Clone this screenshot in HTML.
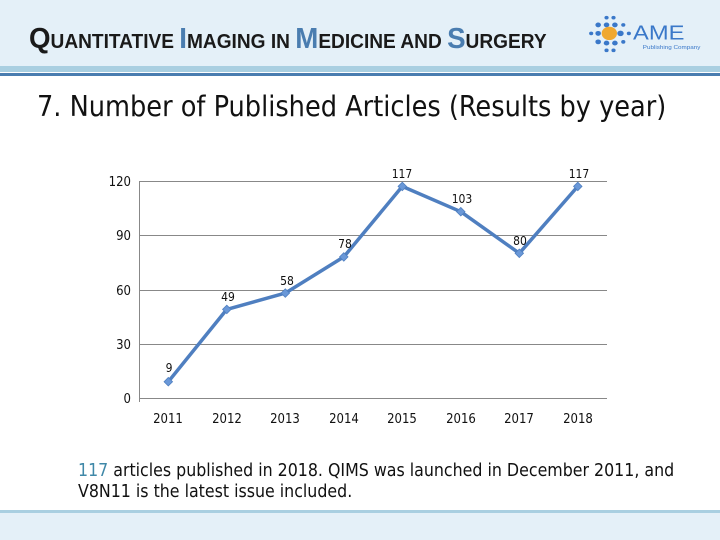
<!DOCTYPE html>
<html><head><meta charset="utf-8"><style>
html,body{margin:0;padding:0;}
body{width:720px;height:540px;position:relative;background:#fff;font-family:"DejaVu Sans Condensed","Liberation Sans",sans-serif;overflow:hidden;}
.hdr{position:absolute;left:0;top:0;width:720px;height:66px;background:#e4f0f8;}
.l1{position:absolute;left:0;top:66px;width:720px;height:6px;background:#a9cfe1;}
.l2{position:absolute;left:0;top:73px;width:720px;height:3px;background:#4a7db0;}
.ftr{position:absolute;left:0;top:513px;width:720px;height:27px;background:#e4f0f8;}
.fl{position:absolute;left:0;top:510px;width:720px;height:3px;background:#a9cfe1;}
.jt{position:absolute;left:29px;top:25px;font-family:"Liberation Sans",sans-serif;font-weight:bold;font-size:20px;color:#1a1a1a;transform:scaleX(0.955);transform-origin:left;white-space:nowrap;line-height:28px;}
.jt b{font-size:29px;color:#1a1a1a;}
.jt b.c{color:#4a7db0;}
.title{position:absolute;left:37px;top:90px;font-size:28.5px;color:#111;white-space:nowrap;}
.note{position:absolute;left:78px;top:461px;font-size:17.6px;line-height:21px;color:#111;white-space:nowrap;}
.note span{color:#3f88a8;}
</style></head><body>
<div class="hdr"></div><div class="l1"></div><div class="l2"></div>
<div class="jt"><b>Q</b>UANTITATIVE <b class="c">I</b>MAGING IN <b class="c">M</b>EDICINE AND <b class="c">S</b>URGERY</div>
<svg style="position:absolute;left:587px;top:14px" width="120" height="40" viewBox="0 0 86 33" preserveAspectRatio="none">
<g fill="#3a78c9">
<circle cx="14" cy="3" r="1.5"/><circle cx="19" cy="3" r="1.5"/>
<circle cx="8" cy="9" r="2"/><circle cx="14" cy="9" r="2"/><circle cx="20" cy="9" r="2"/><circle cx="26" cy="9" r="1.5"/>
<circle cx="3" cy="16" r="1.5"/><circle cx="8" cy="16" r="2"/><circle cx="24" cy="16" r="2.3"/><circle cx="30" cy="16" r="1.5"/>
<circle cx="8" cy="23" r="2"/><circle cx="14" cy="24" r="2"/><circle cx="20" cy="24" r="2"/><circle cx="26" cy="23" r="1.5"/>
<circle cx="14" cy="30" r="1.5"/><circle cx="19" cy="30" r="1.5"/>
</g>
<circle cx="16" cy="16" r="5.5" fill="#f0a830"/>
<text x="33" y="21" font-family="Liberation Sans,sans-serif" font-size="17" fill="#3a78c9">AME</text>
<text x="40" y="29" font-family="Liberation Sans,sans-serif" font-size="4.5" fill="#3a78c9">Publishing Company</text>
</svg>
<div class="title">7. Number of Published Articles (Results by year)</div>
<svg style="position:absolute;left:0;top:0" width="720" height="540" font-family="DejaVu Sans Condensed,Liberation Sans,sans-serif">
<g stroke="#888" stroke-width="1">
<line x1="139" y1="181.5" x2="607" y2="181.5"/>
<line x1="139" y1="235.5" x2="607" y2="235.5"/>
<line x1="139" y1="290.5" x2="607" y2="290.5"/>
<line x1="139" y1="344.5" x2="607" y2="344.5"/>
<line x1="139" y1="398.5" x2="607" y2="398.5"/>
<line x1="139.5" y1="181" x2="139.5" y2="402"/>
</g>
<g font-size="13" fill="#111" text-anchor="end">
<text x="131" y="186">120</text><text x="131" y="240">90</text><text x="131" y="295">60</text><text x="131" y="349">30</text><text x="131" y="403">0</text>
</g>
<g font-size="13" fill="#111" text-anchor="middle">
<text x="168" y="423">2011</text><text x="227" y="423">2012</text><text x="285" y="423">2013</text><text x="344" y="423">2014</text><text x="402" y="423">2015</text><text x="461" y="423">2016</text><text x="519" y="423">2017</text><text x="578" y="423">2018</text>
</g>
<polyline fill="none" stroke="#4f7fc0" stroke-width="3.5" stroke-linejoin="round" points="168.3,381.7 226.8,309.4 285.3,293.1 343.8,256.9 402.3,186.4 460.8,211.7 519.3,253.3 577.8,186.4"/>
<g fill="#6a98d8" stroke="#4f7fc0" stroke-width="0.8">
<rect x="165.3" y="378.7" width="6" height="6" transform="rotate(45 168.3 381.7)"/>
<rect x="223.8" y="306.4" width="6" height="6" transform="rotate(45 226.8 309.4)"/>
<rect x="282.3" y="290.1" width="6" height="6" transform="rotate(45 285.3 293.1)"/>
<rect x="340.8" y="253.9" width="6" height="6" transform="rotate(45 343.8 256.9)"/>
<rect x="399.3" y="183.4" width="6" height="6" transform="rotate(45 402.3 186.4)"/>
<rect x="457.8" y="208.7" width="6" height="6" transform="rotate(45 460.8 211.7)"/>
<rect x="516.3" y="250.3" width="6" height="6" transform="rotate(45 519.3 253.3)"/>
<rect x="574.8" y="183.4" width="6" height="6" transform="rotate(45 577.8 186.4)"/>
</g>
<g font-size="12" fill="#111" text-anchor="middle">
<text x="169" y="372">9</text><text x="228" y="301">49</text><text x="287" y="285">58</text><text x="345" y="248">78</text><text x="402" y="178">117</text><text x="462" y="203">103</text><text x="520" y="245">80</text><text x="579" y="178">117</text>
</g>
</svg>
<div class="note"><span>117</span> articles published in 2018. QIMS was launched in December 2011, and<br>V8N11 is the latest issue included.</div>
<div class="fl"></div><div class="ftr"></div>
</body></html>
